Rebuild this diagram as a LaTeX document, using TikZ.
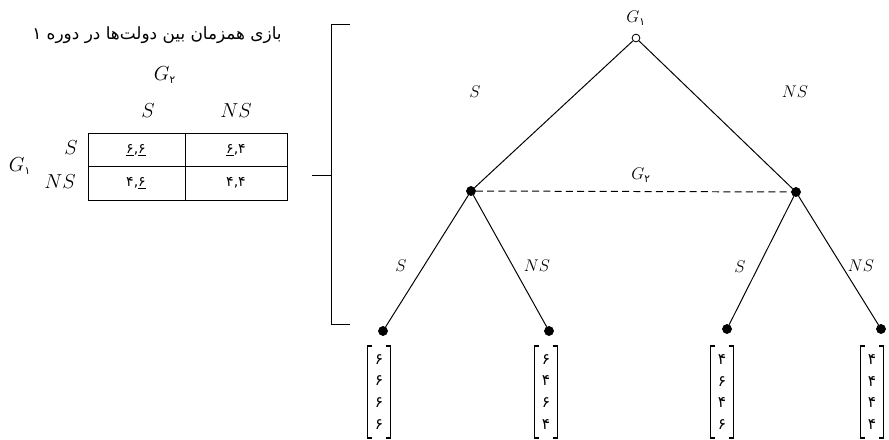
\documentclass[tikz,border=0pt]{standalone}
\usepackage{fontspec}
\newfontfamily\pf[Script=Arabic]{DejaVu Sans}
\newfontfamily\pd{DejaVu Sans}
\TeXXeTstate=1
\newcommand\Gs[1]{$G_{\mbox{\pd\fontsize{7.5}{8}\selectfont #1}}$}
\begin{document}
\begin{tikzpicture}[x=0.025cm,y=-0.025cm,
  lab/.style={font=\fontsize{12.5}{14}\selectfont, inner sep=1pt},
  tab/.style={font=\fontsize{15}{17}\selectfont, inner sep=1pt},
  cell/.style={font=\pd\fontsize{10}{12}\selectfont, inner sep=1pt},
  fdot/.style={circle, fill=black, draw=black, minimum size=6.5pt, inner sep=0pt},
  odot/.style={circle, fill=white, draw=black, line width=0.6pt, minimum size=5.5pt, inner sep=0pt},
  edge/.style={line width=0.7pt},
  vec/.style={font=\pd\fontsize{11}{15.6}\selectfont, align=center, minimum width=15.5pt, minimum height=65pt, inner sep=0pt}]
\useasboundingbox (0,0) rectangle (889,440);

% ---- left: simultaneous game ----
\node (title) at (157,35) {\pf\fontsize{12}{14}\selectfont\beginR بازی همزمان بین دولت‌ها در دوره ۱\endR};
\node[tab] (g2t) at (165,75) {\Gs{۲}};
\node[tab] (cS) at (148,111) {$S$};
\node[tab] (cNS) at (236,111) {$NS$};
\node[tab] (rS) at (71,148) {$S$};
\node[tab] (rNS) at (60,182) {$NS$};
\node[tab] (g1l) at (20,166) {\Gs{۱}};
\draw[line width=0.6pt] (88,133) rectangle (287,200);
\draw[line width=0.6pt] (185,133) -- (185,200);
\draw[line width=0.6pt] (88,166) -- (287,166);
\node[cell] (c11) at (136,150) {\underline{۶},\underline{۶}};
\node[cell] (c12) at (236,150) {\underline{۶},۴};
\node[cell] (c21) at (136,183) {۴,\underline{۶}};
\node[cell] (c22) at (236,183) {۴,۴};

% ---- brace ----
\coordinate (bt) at (350,24);
\coordinate (bb) at (350,324);
\coordinate (bm) at (312,175);
\draw[line width=0.7pt] (bt) -- (331,24) -- (331,324) -- (bb);
\draw[line width=0.7pt] (331,175) -- (bm);

% ---- tree ----
\node[odot] (root) at (636,38) {};
\node[lab] (rootl) at (636,18) {\Gs{۱}};
\node[fdot] (L) at (471,191) {};
\node[fdot] (R) at (796,192) {};
\node[fdot] (l1) at (383,331) {};
\node[fdot] (l2) at (549,331) {};
\node[fdot] (l3) at (727,329) {};
\node[fdot] (l4) at (881,329) {};

\draw[edge] (root) -- (L);
\draw[edge] (root) -- (R);
\draw[edge] (L) -- (l1);
\draw[edge] (L) -- (l2);
\draw[edge] (R) -- (l3);
\draw[edge] (R) -- (l4);
\draw[line width=0.7pt, dash pattern=on 5pt off 3pt] (L) -- (R);

\node[lab] (sA) at (475,92) {$S$};
\node[lab] (nsA) at (795,92) {$NS$};
\node[lab] (g2m) at (641,175) {\Gs{۲}};
\node[lab] (s1) at (401,266) {$S$};
\node[lab] (ns1) at (537,266) {$NS$};
\node[lab] (s2) at (740,267) {$S$};
\node[lab] (ns2) at (861,266) {$NS$};

% ---- payoff vectors ----
\node[vec] (v1) at (379,392) {۶\\۶\\۶\\۶};
\node[vec] (v2) at (546,392) {۶\\۴\\۶\\۴};
\node[vec] (v3) at (722,392) {۴\\۶\\۴\\۶};
\node[vec] (v4) at (872,392) {۴\\۴\\۴\\۴};
\foreach \v in {v1,v2,v3,v4}{
  \draw[line width=0.8pt] ([xshift=3pt]\v.north west) -- (\v.north west) -- (\v.south west) -- ([xshift=3pt]\v.south west);
  \draw[line width=0.8pt] ([xshift=-3pt]\v.north east) -- (\v.north east) -- (\v.south east) -- ([xshift=-3pt]\v.south east);
}
\end{tikzpicture}
\end{document}
